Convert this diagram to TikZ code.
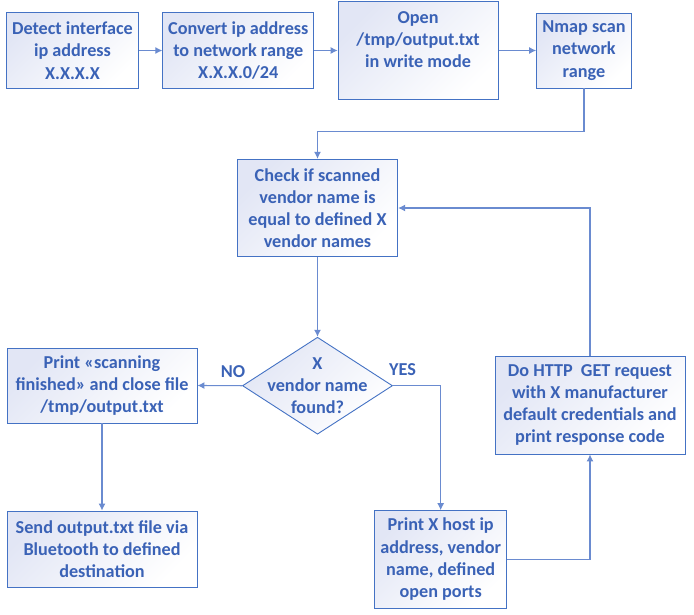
\documentclass[tikz,border=0pt]{standalone}
\usepackage{fontspec}
\setmainfont{Carlito}
\usepackage{xcolor}
\usetikzlibrary{arrows.meta, positioning, shapes.geometric}

\definecolor{boxline}{HTML}{4472C4}
\definecolor{boxtext}{HTML}{3A62B6}
\definecolor{flowline}{HTML}{6A8BD0}
\definecolor{boxfill}{HTML}{E2E6F5}

\begin{document}
\begin{tikzpicture}[
  x=1pt, y=-1pt,
  stepbox/.style = {rectangle, draw=boxline, line width=0.9pt, top color=boxfill, bottom color=white, shading angle=45, text=boxtext, font=\bfseries\fontsize{18.2}{22.2}\selectfont, align=center, inner sep=0pt},
  decision/.style = {diamond, draw=boxline, line width=0.9pt, top color=boxfill, bottom color=white, shading angle=45, text=boxtext, font=\bfseries\fontsize{18.2}{22.2}\selectfont, align=center, inner sep=-16pt, aspect=1.55, minimum width=150pt, minimum height=97pt},
  answer/.style = {text=boxtext, font=\bfseries\fontsize{18.2}{20}\selectfont},
  arrow/.style = {-{Latex[length=7pt, width=7pt]}, draw=flowline, line width=1.1pt}
]
\useasboundingbox (0,0) rectangle (694,614);

\node[stepbox, minimum width=132pt, minimum height=76pt] (detect) at (72.5,50.5) {Detect interface\\ip address\\X.X.X.X};
\node[stepbox, minimum width=151pt, minimum height=76pt, right=23.4pt of detect] (convert) {Convert ip address\\to network range\\X.X.X.0/24};
\node[stepbox, minimum width=160pt, minimum height=97.6pt, right=23.4pt of convert] (open) {Open\\/tmp/output.txt\\in write mode\\\mbox{}};
\node[stepbox, minimum width=94.7pt, minimum height=75pt, right=37.6pt of open] (nmap) {Nmap scan\\network\\range};

\node[stepbox, minimum width=160.4pt, minimum height=97.4pt] (check) at (317.5,208) {Check if scanned\\vendor name is\\equal to defined X\\vendor names};
\node[decision] (found) at (317.5,385.7) {X\\vendor name\\found?};

\node[stepbox, minimum width=190pt, minimum height=75pt] (finish) at (102,385.5) {Print «scanning\\finished» and close file\\/tmp/output.txt};
\node[stepbox, minimum width=190pt, minimum height=76pt] (send) at (102,549) {Send output.txt file via\\Bluetooth to defined\\destination};

\node[stepbox, minimum width=132pt, minimum height=97.3pt] (host) at (440.7,559.3) {Print X host ip\\address, vendor\\name, defined\\open ports};
\node[stepbox, minimum width=190pt, minimum height=98pt] (http) at (590,405) {Do HTTP\ \ GET request\\with X manufacturer\\default credentials and\\print response code};

\draw[arrow] (detect) -- (convert);
\draw[arrow] (convert) -- (open);
\draw[arrow] (open) -- (nmap);
\draw[arrow] (nmap.south) -- ++(0,42.7) -| (check.north);
\draw[arrow] (check) -- (found);
\draw[arrow] (found.west) -- node[answer, pos=0.2, above=4pt] {NO} (finish.east);
\draw[arrow] (found.east) -| node[answer, pos=0.1, above=6pt] {YES} (host.north);
\draw[arrow] (finish.south -| send.north) -- (send.north);
\draw[arrow] (host.east) -| (http.south);
\draw[arrow] (http.north) |- (check.east);

\end{tikzpicture}
\end{document}
